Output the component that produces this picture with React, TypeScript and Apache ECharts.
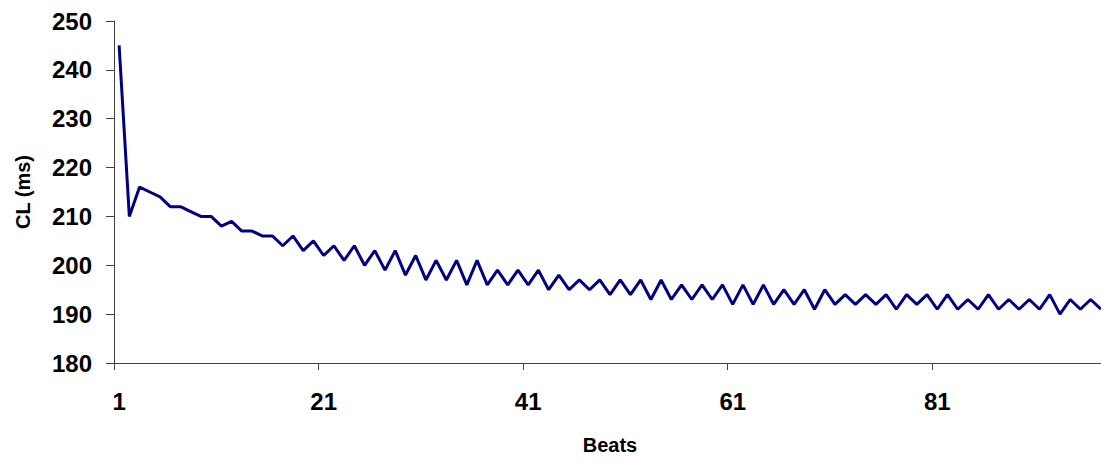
import React, { useEffect, useRef } from "react";
import * as echarts from "echarts";

const beats: string[] = Array.from({ length: 97 }, (_, i) => String(i + 1));

const clValues: number[] = [
  245, 210, 216, 215, 214, 212, 212, 211, 210, 210,
  208, 209, 207, 207, 206, 206, 204, 206, 203, 205,
  202, 204, 201, 204, 200, 203, 199, 203, 198, 202,
  197, 201, 197, 201, 196, 201, 196, 199, 196, 199,
  196, 199, 195, 198, 195, 197, 195, 197, 194, 197,
  194, 197, 193, 197, 193, 196, 193, 196, 193, 196,
  192, 196, 192, 196, 192, 195, 192, 195, 191, 195,
  192, 194, 192, 194, 192, 194, 191, 194, 192, 194,
  191, 194, 191, 193, 191, 194, 191, 193, 191, 193,
  191, 194, 190, 193, 191, 193, 191,
];

const yMin = 180;
const yMax = 250;
const yStep = 10;
const xTitle = "Beats";
const yTitle = "CL (ms)";

const FONT = "Arial, 'Liberation Sans', sans-serif";

export default function App() {
  const ref = useRef<HTMLDivElement>(null);

  useEffect(() => {
    if (!ref.current) return;
    const chart = echarts.init(ref.current, null, { renderer: "svg" });
    chart.setOption({
      animation: false,
      backgroundColor: "#ffffff",
      grid: {
        left: 114,
        top: 21,
        bottom: 97,
        right: -5,
        containLabel: false,
        outerBoundsMode: "none",
      },
      xAxis: {
        type: "category",
        data: beats,
        boundaryGap: true,
        name: xTitle,
        nameLocation: "middle",
        nameGap: 72,
        nameTextStyle: {
          fontFamily: FONT,
          fontWeight: "bold",
          fontSize: 20,
          color: "#000",
        },
        axisLine: { show: true, lineStyle: { color: "#404040", width: 1 } },
        axisTick: {
          show: true,
          interval: 19,
          length: 7,
          alignWithLabel: false,
          lineStyle: { color: "#404040" },
        },
        axisLabel: {
          interval: 19,
          margin: 26,
          fontFamily: FONT,
          fontWeight: "bold",
          fontSize: 24,
          color: "#000",
        },
        splitLine: { show: false },
      },
      yAxis: {
        type: "value",
        min: yMin,
        max: yMax,
        interval: yStep,
        name: yTitle,
        nameLocation: "middle",
        nameGap: 81,
        nameRotate: 90,
        nameTextStyle: {
          fontFamily: FONT,
          fontWeight: "bold",
          fontSize: 20,
          color: "#000",
        },
        axisLine: { show: true, lineStyle: { color: "#404040", width: 1 } },
        axisTick: { show: true, length: 8, lineStyle: { color: "#404040" } },
        axisLabel: {
          margin: 22,
          fontFamily: FONT,
          fontWeight: "bold",
          fontSize: 24,
          color: "#000",
        },
        splitLine: { show: false },
      },
      series: [
        {
          type: "line",
          data: clValues,
          symbol: "none",
          lineStyle: { color: "#000080", width: 3 },
          itemStyle: { color: "#000080" },
        },
      ],
    });
    return () => chart.dispose();
  }, []);

  return (
    <div
      ref={ref}
      style={{
        position: "fixed",
        left: 0,
        top: 0,
        width: 1101,
        height: 460,
        background: "#fff",
      }}
    />
  );
}
